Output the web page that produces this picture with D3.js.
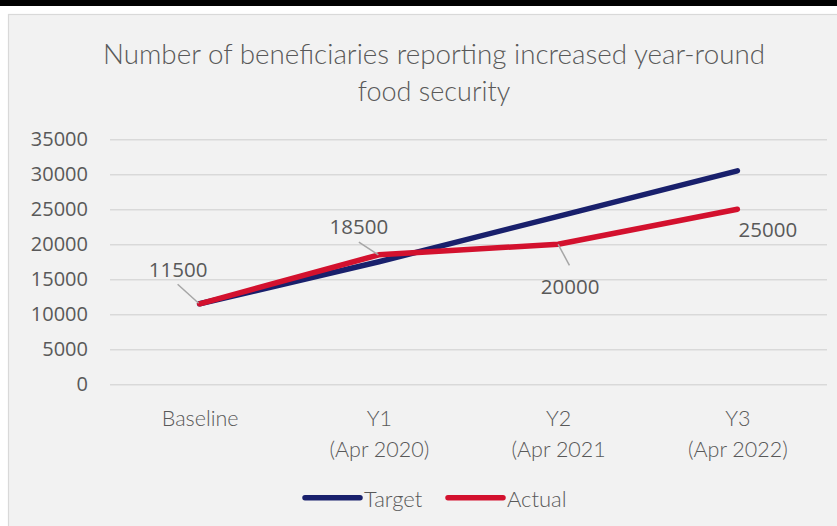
<!DOCTYPE html>
<html>
<head>
<meta charset="utf-8">
<script src="https://cdn.jsdelivr.net/npm/d3@7"></script>
<style>
  body { margin: 0; background: #fff; }
  svg { display: block; }
</style>
</head>
<body>
<svg id="chart" width="837" height="526"></svg>
<script>
// chart values
var categories = ["Baseline", "Y1\n(Apr 2020)", "Y2\n(Apr 2021", "Y3\n(Apr 2022)"]
var target = [11500, 17500, 24000, 30500]
var actual = [11500, 18500, 20000, 25000]
var yTicks = [0, 5000, 10000, 15000, 20000, 25000, 30000, 35000]
var titleLines = ["Number of beneficiaries reporting increased year-round", "food security"]
var seriesNames = ["Target", "Actual"]

// where the data labels of "Actual" sit, relative to their point
var labelOffsets = [
    {dx: -21.5, dy: -34, leader: [-1, -0.5, -22, -19.5]},
    {dx: -20, dy: -28, leader: [-0.5, 0, -20, -12.6]},
    {dx: 12, dy: 42.5, leader: [0, 0, 11.3, 21]},
    {dx: 30.5, dy: 20, leader: null}
]

var colors = {target: "#19206c", actual: "#d3112e", text: "#595959", grid: "#d9d9d9"}
var serifLight = "Lato, 'Open Sans', sans-serif"
var numFont = "'Open Sans', 'DejaVu Sans', sans-serif"

var svg = d3.select("#chart")

// black bar on top, then the grey chart panel
svg.append("rect").attr("x", 0).attr("y", 0).attr("width", 837).attr("height", 6).attr("fill", "#000")
svg.append("rect")
    .attr("x", 8.5).attr("y", 14.5)
    .attr("width", 840).attr("height", 520)
    .attr("fill", "#f2f2f2")
    .attr("stroke", "#d9d9d9")
    .attr("stroke-width", 1.2)

var x = d3.scalePoint()
    .domain(categories)
    .range([110, 827])
    .padding(0.5)

var y = d3.scaleLinear()
    .domain([0, 35000])
    .range([384.3, 139.3])

// title
var title = svg.append("text")
    .attr("text-anchor", "middle")
    .attr("font-family", serifLight)
    .attr("font-weight", 300)
    .attr("font-size", 27)
    .attr("fill", colors.text)
titleLines.forEach(function(t, i) {
    title.append("tspan")
        .attr("x", 434)
        .attr("y", 64 + i * 37)
        .text(t)
})
title.select("tspan").attr("textLength", 662).attr("lengthAdjust", "spacingAndGlyphs")

// y axis with grid
var yAxis = d3.axisLeft(y)
    .tickValues(yTicks)
    .tickSize(-(827 - 110))
    .tickPadding(22)
    .tickFormat(d3.format("d"))

var gy = svg.append("g")
    .attr("transform", "translate(110,0)")
    .call(yAxis)
gy.select(".domain").remove()
gy.selectAll(".tick line").attr("stroke", colors.grid).attr("stroke-width", 1.5)
gy.selectAll(".tick text")
    .attr("fill", colors.text)
    .attr("font-family", numFont)
    .attr("font-size", 20)

// x axis labels, two lines each
var xAxis = d3.axisBottom(x).tickSize(0).tickFormat("")
var gx = svg.append("g")
    .attr("transform", "translate(0,384.3)")
    .call(xAxis)
gx.select(".domain").remove()
gx.selectAll(".tick").each(function(d) {
    var t = d3.select(this).append("text")
        .attr("text-anchor", "middle")
        .attr("fill", colors.text)
        .attr("font-family", serifLight)
        .attr("font-weight", 300)
        .attr("font-size", 21.5)
    d.split("\n").forEach(function(line, i) {
        t.append("tspan").attr("x", 0).attr("y", 41.5 + i * 31).text(line)
    })
})

// lines
var line = d3.line()
    .x(function(d, i) { return x(categories[i]) })
    .y(function(d) { return y(d) })

svg.append("path")
    .datum(target)
    .attr("d", line)
    .attr("fill", "none")
    .attr("stroke", colors.target)
    .attr("stroke-width", 5.5)
    .attr("stroke-linecap", "round")
    .attr("stroke-linejoin", "round")

svg.append("path")
    .datum(actual)
    .attr("d", line)
    .attr("fill", "none")
    .attr("stroke", colors.actual)
    .attr("stroke-width", 5.5)
    .attr("stroke-linecap", "round")
    .attr("stroke-linejoin", "round")

// data labels for Actual
var labels = svg.append("g")
actual.forEach(function(v, i) {
    var px = x(categories[i]), py = y(v), o = labelOffsets[i]
    if (o.leader) {
        labels.append("line")
            .attr("x1", px + o.leader[0]).attr("y1", py + o.leader[1])
            .attr("x2", px + o.leader[2]).attr("y2", py + o.leader[3])
            .attr("stroke", "#a6a6a6")
            .attr("stroke-width", 1.5)
    }
    labels.append("text")
        .attr("x", px + o.dx)
        .attr("y", py + o.dy)
        .attr("dy", "0.36em")
        .attr("text-anchor", "middle")
        .attr("fill", colors.text)
        .attr("font-family", numFont)
        .attr("font-size", 20.5)
        .text(v)
})

// legend
var legendItems = [
    {name: seriesNames[0], color: colors.target, x: 305},
    {name: seriesNames[1], color: colors.actual, x: 448}
]
var legend = svg.append("g")
legendItems.forEach(function(it) {
    legend.append("line")
        .attr("x1", it.x).attr("x2", it.x + 55)
        .attr("y1", 497.7).attr("y2", 497.7)
        .attr("stroke", it.color)
        .attr("stroke-width", 5.5)
        .attr("stroke-linecap", "round")
    legend.append("text")
        .attr("x", it.x + 59)
        .attr("y", 507)
        .attr("fill", colors.text)
        .attr("font-family", serifLight)
        .attr("font-weight", 300)
        .attr("font-size", 22)
        .text(it.name)
})
</script>
</body>
</html>
